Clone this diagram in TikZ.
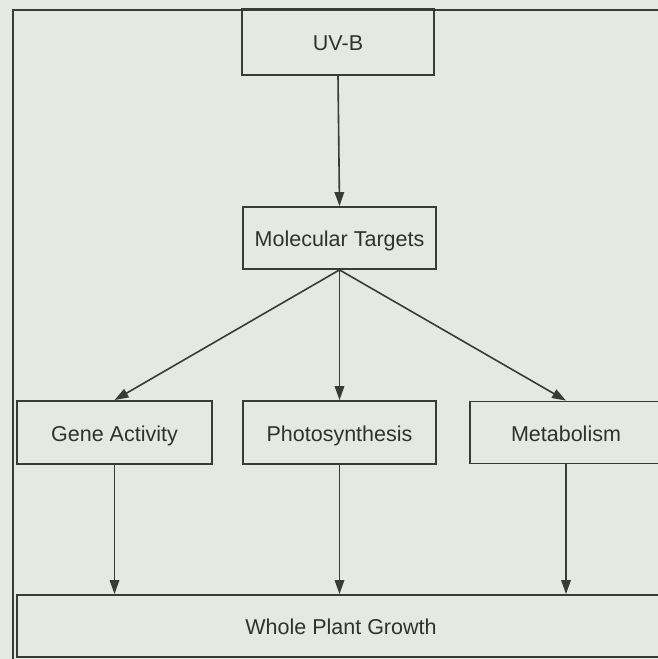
\documentclass[tikz,border=0pt]{standalone}
\usepackage{fontspec}
\setmainfont{Liberation Sans}
\usetikzlibrary{arrows.meta}
\definecolor{bg}{HTML}{E4E9E1}
\definecolor{ink}{HTML}{373C37}
\definecolor{txt}{HTML}{2F332F}
\tikzset{
  box/.style={draw=ink, line width=1.8bp, rectangle, inner sep=0pt,
    text height=18.5bp, text depth=1.5bp,
    text=txt, font=\fontsize{21.5bp}{24bp}\selectfont},
  conn/.style={draw=ink, line width=1.6bp, -{Triangle[length=14bp,width=9.5bp]}}
}
\begin{document}
\begin{tikzpicture}[x=1bp,y=-1bp]
\fill[bg] (0,0) rectangle (658,659);
\useasboundingbox (0,0) rectangle (658,659);
\begin{scope}
\clip (0,0) rectangle (658,659);
\draw[ink, line width=2.2bp] (13,10) rectangle (700,700);
\node[box, minimum width=192bp, minimum height=65bp] (uvb) at (338,42.5) {UV-B};
\node[box, minimum width=193bp, minimum height=62bp] (mol) at (339.5,238) {Molecular Targets};
\node[box, minimum width=195bp, minimum height=63bp] (gene) at (114.5,432.5) {Gene Activity};
\node[box, minimum width=193bp, minimum height=63bp] (photo) at (339.5,432.5) {Photosynthesis};
\node[box, minimum width=192bp, minimum height=62bp] (meta) at (566,432.5) {Metabolism};
\node[box, minimum width=648bp, minimum height=62bp] (whole) at (341,626) {Whole Plant Growth};
\draw[ink, line width=2.6bp] (uvb.north west) -- (uvb.north east);
\draw[conn] (uvb.south) -- (mol.north);
\draw[conn] (mol.south) -- (gene.north);
\draw[conn] (mol.south) -- (photo.north);
\draw[conn] (mol.south) -- (meta.north);
\draw[conn] (gene.south) -- (gene.south |- whole.north);
\draw[conn] (photo.south) -- (photo.south |- whole.north);
\draw[conn] (meta.south) -- (meta.south |- whole.north);
\end{scope}
\end{tikzpicture}
\end{document}
